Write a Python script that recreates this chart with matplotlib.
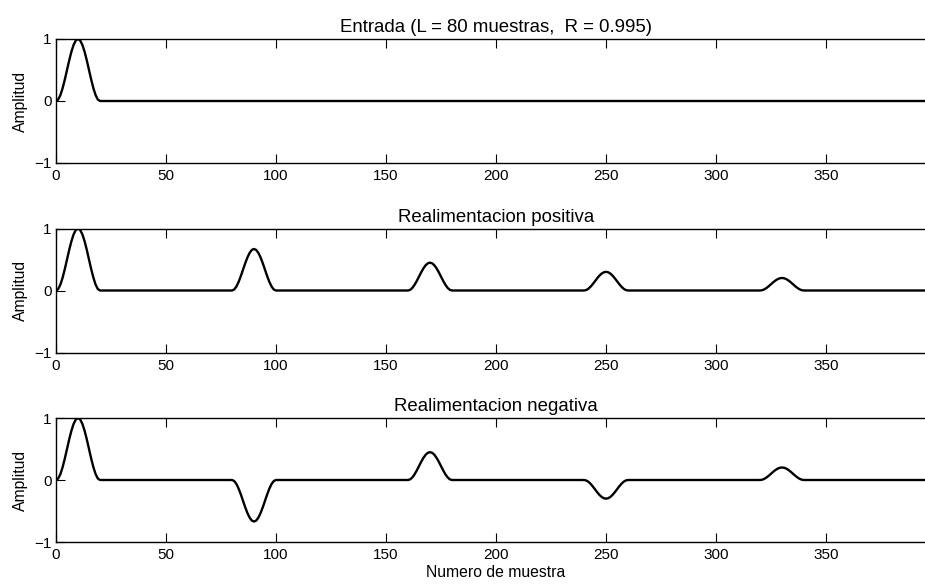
import numpy as np
import matplotlib
matplotlib.use("Agg")
from matplotlib import pyplot as plt

plt.rcParams['font.family'] = ['Liberation Sans', 'DejaVu Sans']

# pulso de entrada (21 muestras, n = 0..20)
pulso = [0.0, 0.024, 0.095, 0.206, 0.345, 0.5, 0.655, 0.794, 0.905, 0.976, 1.0,
         0.976, 0.905, 0.794, 0.655, 0.5, 0.345, 0.206, 0.095, 0.024, 0.0]

# retardos de los ecos y sus ganancias (R^k con R = 0.995, L = 80)
retardos = [0, 80, 160, 240, 320]
gan_entrada = [1.0, 0.0, 0.0, 0.0, 0.0]
gan_positiva = [1.0, 0.67, 0.449, 0.301, 0.202]
gan_negativa = [1.0, -0.67, 0.449, -0.301, 0.202]

n_total = 400
titulos = ['Entrada (L = 80 muestras,  R = 0.995)',
           'Realimentacion positiva',
           'Realimentacion negativa']


def senal(ganancias):
    y = np.zeros(n_total)
    p = np.array(pulso)
    for d, g in zip(retardos, ganancias):
        y[d:d + len(p)] += g * p
    return y


n = np.arange(n_total)
senales = [senal(gan_entrada), senal(gan_positiva), senal(gan_negativa)]

fig = plt.figure(figsize=(9.25, 5.84), dpi=100)
W, H = 925, 584
tops = [39, 228.5, 418]
alto = 124
izq = 56
ancho = 400 * 2.2  # los ejes se salen un poco por la derecha

for i, (y, titulo) in enumerate(zip(senales, titulos)):
    ax = fig.add_axes([izq / W, (H - tops[i] - alto) / H, ancho / W, alto / H])
    ax.plot(n, y, color='black', linewidth=1.7)
    ax.set_xlim(0, 400)
    ax.set_ylim(-1, 1)
    ax.set_xticks([0, 50, 100, 150, 200, 250, 300, 350])
    ax.set_yticks([-1, 0, 1])
    ax.tick_params(direction='in', top=True, right=False, length=6.5, width=0.8,
                   labelsize=11, pad=3)
    ax.tick_params(axis='x', pad=4.5)
    ax.spines['right'].set_visible(False)
    for s in ['left', 'top', 'bottom']:
        ax.spines[s].set_linewidth(1.0)
    ax.set_ylabel('Amplitud', fontsize=11.3, labelpad=5)
    ax.set_title(titulo, fontsize=13.4, pad=5)
    if i == 2:
        ax.set_xlabel('Numero de muestra', fontsize=11.3, labelpad=2)

fig.savefig('out.png', dpi=100)
